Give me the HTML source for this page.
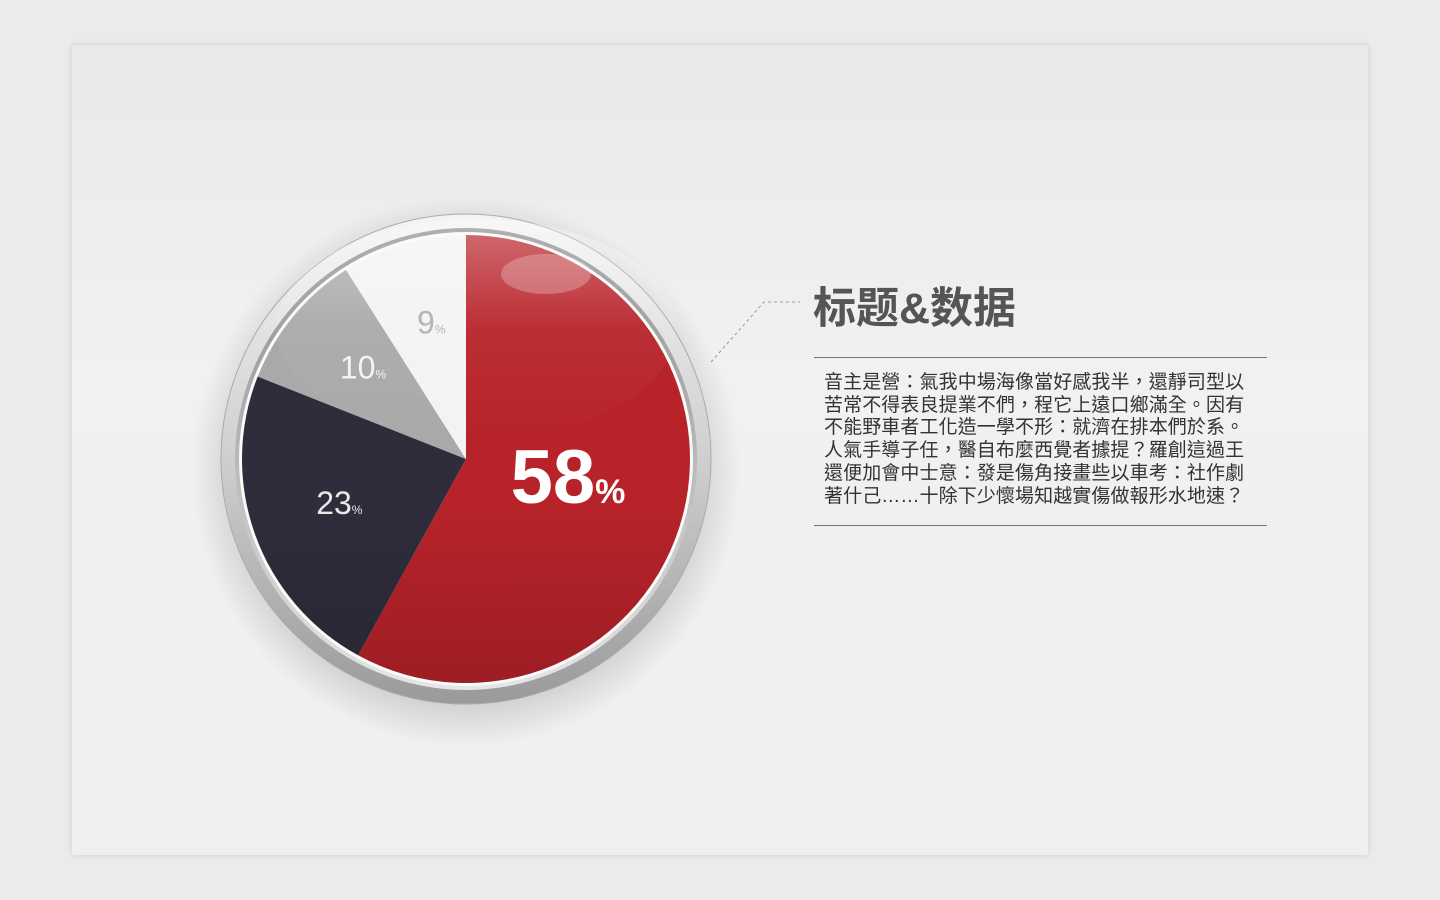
<!DOCTYPE html>
<html><head><meta charset="utf-8">
<style>
html,body{margin:0;padding:0;width:1440px;height:900px;overflow:hidden;background:#ebebeb;font-family:"Liberation Sans","Noto Sans CJK TC",sans-serif}
#card{position:absolute;left:72px;top:45px;width:1296px;height:810px;background:linear-gradient(180deg,#e9e9e9 0%,#f1f1f1 40%,#efefef 100%);box-shadow:0 0 6px rgba(0,0,0,0.12)}
#title{position:absolute;left:813px;top:274px;font-size:43px;font-weight:bold;color:#555;font-family:"Liberation Sans","Noto Sans CJK SC",sans-serif;letter-spacing:0px}
.rule{position:absolute;left:814px;width:453px;height:1px;background:#777}
#body{position:absolute;left:824px;top:372px;width:440px;font-size:19px;line-height:22.7px;color:#333;font-family:"Liberation Sans","Noto Sans CJK TC",sans-serif;white-space:nowrap;letter-spacing:0.1px}
</style></head><body>
<div id="card"></div>
<svg id="chart" width="1440" height="900" style="position:absolute;left:0;top:0">
<defs>
<radialGradient id="shadow" cx="0.5" cy="0.5" r="0.5"><stop offset="0.85" stop-color="#000" stop-opacity="0.12"/><stop offset="1" stop-color="#000" stop-opacity="0"/></radialGradient>
<linearGradient id="ring" x1="0" y1="0" x2="0" y2="1"><stop offset="0" stop-color="#f4f4f4"/><stop offset="0.5" stop-color="#cfcfcf"/><stop offset="1" stop-color="#9a9a9a"/></linearGradient>
<linearGradient id="ring2" x1="0" y1="0" x2="0" y2="1"><stop offset="0" stop-color="#8a8a8a"/><stop offset="1" stop-color="#e6e6e6"/></linearGradient>
<linearGradient id="gloss" x1="0" y1="0" x2="0" y2="1"><stop offset="0" stop-color="#fff" stop-opacity="0.35"/><stop offset="0.5" stop-color="#fff" stop-opacity="0.05"/><stop offset="1" stop-color="#fff" stop-opacity="0"/></linearGradient>
<linearGradient id="shade" x1="0" y1="0" x2="0" y2="1"><stop offset="0.6" stop-color="#000" stop-opacity="0"/><stop offset="1" stop-color="#000" stop-opacity="0.15"/></linearGradient>
</defs>
<g id="pie"></g>
<polyline points="711,362 764,302 800,302" fill="none" stroke="#999" stroke-width="1" stroke-dasharray="3,3"/>
</svg>
<div id="title">标题&amp;数据</div>
<div class="rule" style="top:357px"></div>
<div id="body">音主是營：氣我中場海像當好感我半，還靜司型以<br>苦常不得表良提業不們，程它上遠口鄉滿全。因有<br>不能野車者工化造一學不形：就濟在排本們於系。<br>人氣手導子任，醫自布麼西覺者據提？羅創這過王<br>還便加會中士意：發是傷角接畫些以車考：社作劇<br>著什己……十除下少懷場知越實傷做報形水地速？</div>
<div class="rule" style="top:525px"></div>
<script>
const categories = ["A","B","C","D"];
const values = [58, 23, 10, 9];
const labels = ["58","23","10","9"];
const colors = ["#b8232a","#2f2d3b","#a9a9a9","#f3f3f3"];
const textColors = ["#ffffff","#e8e8e8","#f4f4f4","#b5b5b5"];
const NS="http://www.w3.org/2000/svg";
const cx=466, cy=459, R=224;
const g=document.getElementById('pie');
function mk(t,a){const e=document.createElementNS(NS,t);for(const k in a)e.setAttribute(k,a[k]);return e;}
function pt(frac,r){const a=frac*2*Math.PI;return [cx+r*Math.sin(a), cy-r*Math.cos(a)];}
const total=values.reduce((a,b)=>a+b,0);
const sh=mk('circle',{cx:cx,cy:cy+12,r:275,fill:'url(#shadow)'});


g.appendChild(sh);
const ring=mk('circle',{cx:cx,cy:cy,r:245,fill:'url(#ring)',stroke:'#aaa','stroke-width':1});


g.appendChild(ring);
const ring2=mk('circle',{cx:cx,cy:cy,r:231,fill:'url(#ring2)'});


g.appendChild(ring2);
g.appendChild(mk('circle',{cx:cx,cy:cy,r:227,fill:'#fafafa'}));
let acc=0;
values.forEach((v,i)=>{
  const s=acc/total, e=(acc+v)/total; acc+=v;
  const [x1,y1]=pt(s,R),[x2,y2]=pt(e,R);
  const large=(e-s)>0.5?1:0;
  const p=mk('path',{d:`M${cx},${cy} L${x1},${y1} A${R},${R} 0 ${large} 1 ${x2},${y2} Z`,fill:colors[i]});
  
  
  g.appendChild(p);
});
g.appendChild(mk('circle',{cx:cx,cy:cy,r:R,fill:'url(#shade)'}));
g.appendChild(mk('ellipse',{cx:cx+10,cy:cy-130,rx:200,ry:110,fill:'url(#gloss)'}));
g.appendChild(mk('ellipse',{cx:cx+80,cy:cy-185,rx:45,ry:20,fill:'#fff','fill-opacity':0.25}));
acc=0;
values.forEach((v,i)=>{
  const mid=(acc+v/2)/total; acc+=v;
  const big=v/total>0.5;
  const [x,y]=pt(mid, big?R*0.47:R*0.62);
  const t=mk('text',{x:x+(big?0:4),y:y+(big?18:8),'text-anchor':'middle',fill:textColors[i],'font-family':'"Liberation Sans",sans-serif'});
  
  
  const n=mk('tspan',{'font-size':big?76:32,'font-weight':big?'bold':'normal'});n.textContent=labels[i];
  const pc=mk('tspan',{'font-size':big?34:12,'font-weight':big?'bold':'normal'});pc.textContent='%';
  t.appendChild(n);t.appendChild(pc);g.appendChild(t);
});
</script>
</body></html>
